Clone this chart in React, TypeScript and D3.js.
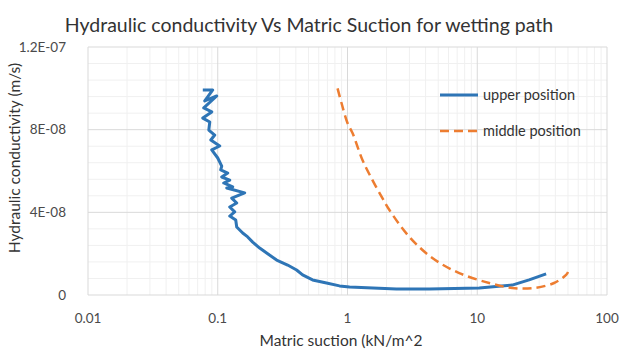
import * as d3 from 'd3'

// matric suction (kN/m^2) and hydraulic conductivity (m/s)
const upperSuction = [
  0.0767, 0.0915, 0.0794, 0.0982, 0.078, 0.0899, 0.0767, 0.0868, 0.0853, 0.0948,
  0.0884, 0.1036, 0.0899, 0.1, 0.1073, 0.1054, 0.1194, 0.1073, 0.1237, 0.1112,
  0.1304, 0.1173, 0.1613, 0.1281, 0.14, 0.1237, 0.1351, 0.1237, 0.1376, 0.14,
  0.1557, 0.1701, 0.1859, 0.2104, 0.2381, 0.2843, 0.3455, 0.4052, 0.4507, 0.5379,
  0.6894, 0.868, 1.036, 2.382, 4.274, 10.36, 18.58, 25.1, 33.95,
]
const upperK = [
  9.92e-8, 9.92e-8, 9.39e-8, 9.63e-8, 9.05e-8, 8.86e-8, 8.56e-8, 8.37e-8, 7.98e-8, 7.74e-8,
  7.5e-8, 7.21e-8, 7.02e-8, 6.63e-8, 6.24e-8, 6.05e-8, 5.9e-8, 5.71e-8, 5.56e-8, 5.42e-8,
  5.23e-8, 5.18e-8, 4.94e-8, 4.69e-8, 4.45e-8, 4.26e-8, 4.02e-8, 3.82e-8, 3.63e-8, 3.29e-8,
  3.0e-8, 2.81e-8, 2.56e-8, 2.27e-8, 2.03e-8, 1.69e-8, 1.45e-8, 1.21e-8, 9.7e-9, 7.3e-9,
  5.8e-9, 4.4e-9, 3.9e-9, 2.9e-9, 2.9e-9, 3.4e-9, 4.8e-9, 7.3e-9, 1.02e-8,
]

const middleSuction = [
  0.838, 0.899, 1.0, 1.093, 1.304, 1.557, 1.858, 2.104, 2.999, 4.507,
  7.27, 12.37, 18.58, 27.4, 39.1, 48.4, 50.1,
]
const middleK = [
  1.0e-7, 9.29e-8, 8.32e-8, 7.84e-8, 6.53e-8, 5.56e-8, 4.69e-8, 4.11e-8, 2.81e-8, 1.79e-8,
  1.06e-8, 5.8e-9, 3.4e-9, 3.4e-9, 5.8e-9, 9.7e-9, 1.11e-8,
]

const xTicks = [0.01, 0.1, 1, 10, 100]
const xTickLabels = ['0.01', '0.1', '1', '10', '100']
const yTicks = [0, 4e-8, 8e-8, 1.2e-7]
const yTickLabels = ['0', '4E-08', '8E-08', '1.2E-07']

const seriesNames = ['upper position', 'middle position']

const W = 621
const H = 352
const FONT = 'Lato, "Open Sans", sans-serif'

export default function App() {
  const margin = { top: 47, right: 14, bottom: 57, left: 88 }
  const x = d3.scaleLog().domain([0.01, 100]).range([margin.left, W - margin.right])
  const y = d3.scaleLinear().domain([0, 1.2e-7]).range([H - margin.bottom, margin.top])

  // minor grid values
  const xMinor: number[] = []
  for (let e = -2; e < 2; e++) {
    for (let m = 2; m <= 9; m++) xMinor.push(m * Math.pow(10, e))
  }
  const yMinor = d3.range(0, 1.2e-7 + 1e-12, 8e-9).filter((v) => !yTicks.some((t) => Math.abs(t - v) < 1e-12))

  const upper = upperSuction.map((s, i) => [s, upperK[i]] as [number, number])
  const middle = middleSuction.map((s, i) => [s, middleK[i]] as [number, number])

  const line = d3
    .line<[number, number]>()
    .x((d) => x(d[0]))
    .y((d) => y(d[1]))

  const smooth = d3
    .line<[number, number]>()
    .x((d) => x(d[0]))
    .y((d) => y(d[1]))
    .curve(d3.curveCatmullRom.alpha(0.5))

  const [x0, x1] = x.range()
  const [y0, y1] = y.range()

  return (
    <svg
      width={W}
      height={H}
      style={{ position: 'absolute', left: 0, top: 0, background: '#fff' }}
      fontFamily={FONT}
    >
      {/* Title */}
      <text x={309} y={32} textAnchor="middle" fontSize={19.5} fill="#333">
        Hydraulic conductivity Vs Matric Suction for wetting path
      </text>

      {/* minor grid */}
      <g stroke="#f0f0f0" strokeWidth={1}>
        {xMinor.map((v) => (
          <line key={'xm' + v} x1={x(v)} x2={x(v)} y1={y1} y2={y0} />
        ))}
        {yMinor.map((v) => (
          <line key={'ym' + v} x1={x0} x2={x1} y1={y(v)} y2={y(v)} />
        ))}
      </g>

      {/* major grid */}
      <g stroke="#d9d9d9" strokeWidth={1}>
        {xTicks.map((v) => (
          <line key={'xM' + v} x1={x(v)} x2={x(v)} y1={y1} y2={y0} />
        ))}
        {yTicks.map((v) => (
          <line key={'yM' + v} x1={x0} x2={x1} y1={y(v)} y2={y(v)} />
        ))}
      </g>

      {/* tick labels */}
      <g fontSize={13.5} fill="#4a4a4a">
        {yTicks.map((v, i) => (
          <text key={'yl' + v} x={x0 - 22} y={y(v)} dy="0.35em" textAnchor="end">
            {yTickLabels[i]}
          </text>
        ))}
        {xTicks.map((v, i) => (
          <text key={'xl' + v} x={x(v)} y={y0 + 28} textAnchor="middle">
            {xTickLabels[i]}
          </text>
        ))}
      </g>

      {/* axis titles */}
      <text x={341} y={346} textAnchor="middle" fontSize={15.5} fill="#333">
        Matric suction (kN/m^2
      </text>
      <text
        transform={`translate(20,${(y0 + y1) / 2 - 13}) rotate(-90)`}
        textAnchor="middle"
        fontSize={15.5}
        fill="#333"
      >
        Hydraulic conductivity (m/s)
      </text>

      {/* series */}
      <path d={line(upper) || ''} fill="none" stroke="#2e75b6" strokeWidth={3} strokeLinejoin="round" />
      <path
        d={smooth(middle) || ''}
        fill="none"
        stroke="#ed7d31"
        strokeWidth={2.5}
        strokeDasharray="9,5"
      />

      {/* legend */}
      <g>
        <line x1={440} x2={478} y1={95} y2={95} stroke="#2e75b6" strokeWidth={3} />
        <text x={483} y={95} dy="0.35em" fontSize={14.5} fill="#333">
          {seriesNames[0]}
        </text>
        <line x1={440} x2={478} y1={131} y2={131} stroke="#ed7d31" strokeWidth={2.5} strokeDasharray="9,5" />
        <text x={483} y={131} dy="0.35em" fontSize={14.5} fill="#333">
          {seriesNames[1]}
        </text>
      </g>
    </svg>
  )
}
